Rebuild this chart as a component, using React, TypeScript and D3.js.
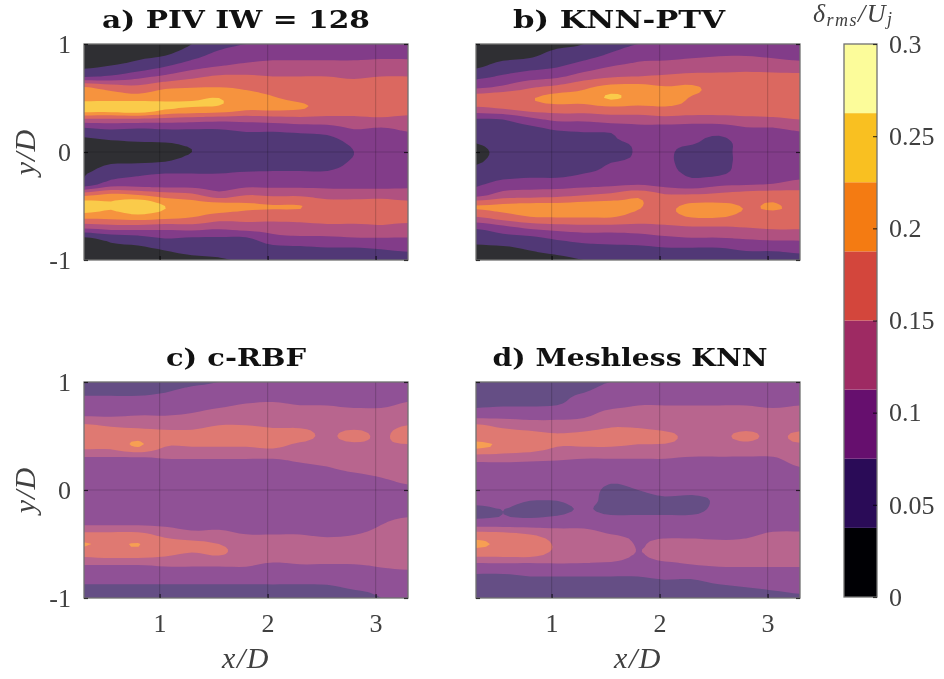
import React from 'react'
import * as d3 from 'd3'

// sample positions of the digitised fields (values below are delta_rms/U_j in percent)
const xSamples = [0.3, 0.55, 0.8, 1.05, 1.3, 1.55, 1.8, 2.05, 2.3, 2.55, 2.8, 3.05, 3.3]
const ySamples = [1, 0.9, 0.8, 0.7, 0.6, 0.5, 0.4, 0.3, 0.2, 0.1, 0, -0.1, -0.2, -0.3, -0.4, -0.5, -0.6, -0.7, -0.8, -0.9, -1]

// one inner array per x sample, top to bottom
const piv = [
  [2, 2, 3, 7, 19, 21, 25, 14, 6, 3, 2, 2.5, 3.5, 5.5, 18, 25, 20, 12, 3, 2, 1],
  [2, 2.5, 3.75, 8, 17, 21, 25, 14, 7, 3.5, 2, 3.5, 6, 9.5, 20, 23, 20, 13, 5, 3, 2],
  [2, 3, 5, 10, 16, 20.5, 26, 14, 6.5, 3.9, 2, 3.6, 7, 9.5, 19, 26, 21, 13, 6, 3, 2],
  [2, 3.5, 7, 12, 18, 21.5, 23, 13.5, 7, 4, 2.5, 4, 7.5, 9.5, 17, 22.5, 20, 12.5, 7.5, 4, 2.5],
  [3.75, 6, 9.5, 14, 18.5, 22, 22, 13, 7, 4.5, 3.75, 5, 7.5, 9.5, 16, 21, 19, 13, 7, 5, 3],
  [6.5, 8.5, 11, 15.5, 18.75, 22.5, 21.5, 12.5, 7, 4.5, 4, 5, 7.5, 9, 13, 20.5, 17, 12, 7, 5, 3.5],
  [7.5, 9.5, 12, 15.5, 18, 20.5, 19.5, 12.5, 8, 5, 4, 5, 8, 10, 15, 19.5, 16.5, 13, 7, 5, 4],
  [8, 10, 12.5, 15, 17, 19, 19.5, 13, 8, 5, 5, 6, 8, 10, 14.5, 19, 16.5, 13, 10, 6, 4],
  [8, 10, 12.5, 15, 16.5, 18, 19, 13.5, 8.5, 5.5, 5, 6, 8, 10, 14.5, 18.9, 16.5, 13.5, 10.5, 6.5, 5],
  [8, 10, 12.5, 15, 16.5, 17.5, 17.5, 13.5, 9, 6, 5, 6, 8, 10, 13.5, 17, 16.5, 14, 10.5, 7, 5],
  [8.5, 10, 12.5, 14.5, 16.5, 17.5, 18, 13.5, 11, 8.5, 7.5, 8, 9, 10, 13.5, 17, 16.5, 14, 11, 7, 5.5],
  [8.5, 10.5, 12.5, 15, 17, 18, 18.5, 14, 10.5, 9, 8.5, 8.5, 9, 10, 13.5, 17.5, 16, 14.5, 11, 7.5, 6],
  [9, 10.5, 12.5, 15, 17, 18, 18, 13, 11.5, 9.5, 9, 9, 9.5, 10.5, 13, 16.5, 16, 14, 11, 8, 6.5],
]

const knnPtv = [
  [2, 2.5, 3, 6.5, 10.5, 17, 14, 7, 5.5, 4, 3, 3.5, 5, 7, 10, 19, 15, 8, 5, 3, 2],
  [2, 2.5, 5, 8, 12, 18, 15, 7.5, 6, 5, 4.5, 5, 6, 9, 13, 19.5, 17, 10, 6, 3, 2],
  [2, 3, 6, 9.5, 14.5, 18.5, 16.5, 10, 6, 5, 4.5, 5, 6.5, 9.5, 13.5, 20, 18.75, 12, 6.5, 4, 2.5],
  [3, 5, 7, 10.5, 16, 20, 17, 12, 7.5, 5, 4.5, 5, 6.5, 9.5, 14, 20, 19, 13, 8, 5, 3],
  [3.75, 6, 9, 13, 18, 20, 17, 12, 8, 5.5, 5, 5.5, 7.5, 10, 15, 20.5, 19, 13.5, 9, 6, 3.75],
  [6, 8, 11, 14.5, 20, 23, 17.5, 13, 8, 7, 5, 7.5, 8.5, 10.5, 16, 20.5, 19, 13.5, 9, 6.5, 4],
  [7.5, 10, 12, 15, 20, 21, 17.5, 13, 9.5, 8, 8, 8, 9, 11, 18, 19, 17.5, 13.5, 9.5, 6.5, 4.5],
  [8, 10, 12.5, 15.5, 19, 20.5, 18, 13.5, 9, 8, 8, 8, 8.5, 10, 15.5, 18, 17.5, 14, 10.5, 7, 5],
  [8.5, 10.5, 13, 16, 19.2, 18.5, 17.5, 13, 9, 8, 6.5, 6.5, 7, 9, 15.5, 19.5, 19, 14.5, 11, 7, 5],
  [9, 11, 13, 16, 17.5, 18, 17.5, 13, 9, 6.5, 6.5, 6.5, 7, 10.5, 16, 19.5, 19, 14.5, 11, 7, 5],
  [9, 11, 13.5, 16, 17.5, 18, 18, 13.5, 10.5, 9, 8.5, 8.5, 9, 11, 17, 18.6, 18, 15, 11.5, 8, 5.5],
  [8.5, 10.5, 13, 16, 17.5, 18, 18, 14, 10.5, 9, 8.5, 8.5, 9, 11.5, 17.5, 18.9, 18, 15.5, 12, 8, 6],
  [8.5, 10, 12.5, 16, 17.5, 18, 18, 15, 11.5, 9.5, 9, 9, 9.5, 13, 16.5, 18.3, 18, 15.5, 12, 8.5, 6.5],
]

const cRbf = [
  [6, 7, 9, 10.5, 15.5, 17, 16, 11, 9.5, 9, 8.5, 8.5, 9, 10, 15.5, 19, 16, 11, 9, 7, 5.5],
  [6, 7, 9, 10.5, 14.5, 17, 16, 11, 9.5, 9, 8.5, 8.5, 9, 10, 15.5, 18, 16.5, 11, 9, 7, 5.5],
  [6, 7, 9, 11, 14, 17.5, 18.9, 11, 9.5, 9, 8.5, 8.5, 9, 10, 15.5, 18.9, 16.5, 11, 9, 7, 5.5],
  [6.5, 7.5, 9.5, 11, 13.5, 16.5, 15, 11.5, 9.5, 9, 8.5, 8.5, 9, 10, 13.5, 16.5, 15.5, 11.5, 9, 7, 5.5],
  [7, 8.5, 10, 11.5, 14, 16, 15, 11.5, 10, 9, 8.5, 8.5, 9, 9.5, 12, 16, 14.5, 11.5, 9, 7, 5.5],
  [7.5, 9, 10.5, 12.5, 15, 16.5, 15, 11.5, 10, 9, 8.5, 8.5, 9, 10, 12, 15, 15.2, 11.5, 9, 7, 5.5],
  [8, 9.5, 11.25, 13, 15, 16.5, 15, 11.5, 10, 9, 8.5, 8.5, 9, 9.5, 11, 13.5, 13.5, 11.5, 9, 7, 5.5],
  [8.5, 10, 11.5, 13.5, 14.5, 16.5, 15.5, 11.5, 10, 9, 8.5, 8.5, 9, 9.5, 11, 13, 13, 10.5, 9, 7, 5.5],
  [8.5, 10, 11, 13, 14.5, 16, 14, 12, 10.5, 9.5, 8.5, 8.5, 9, 9.5, 11, 13, 13, 11, 9, 7, 5.5],
  [8.5, 9.5, 11, 12.5, 14, 14.5, 14, 12.5, 11, 9.5, 9, 8.5, 9, 9.5, 10.5, 12.5, 12.5, 11, 9.5, 7, 5.5],
  [8.5, 9.5, 10.5, 12.5, 14, 16, 14, 13, 12, 10, 9, 9, 9, 9.5, 11, 12.5, 13, 11, 10, 8, 6],
  [8.5, 9.5, 10.5, 12.5, 14, 14.5, 14.5, 13, 12.5, 11, 9.5, 9.5, 10, 11, 12, 13, 13, 11.5, 10, 8.5, 7.5],
  [9, 10, 11.5, 13, 15, 16.5, 14.5, 13.5, 13, 12, 10.5, 10, 10.5, 12, 13, 13, 13, 12, 10, 9, 7.5],
]

const meshlessKnn = [
  [6, 6.5, 7, 9, 15.5, 17, 19.5, 13, 9.5, 8.5, 8.5, 8, 7, 8.5, 16, 19.5, 16, 10, 7, 6, 5],
  [6, 6.5, 7, 9.5, 14, 17, 18, 13, 9.5, 8.5, 8.5, 8, 7.5, 8.5, 15.5, 18, 16, 10, 7, 6, 5],
  [6, 6.5, 7, 9.5, 13, 16.5, 17, 12.5, 9.5, 8.5, 8.5, 7.5, 7, 8.5, 14.5, 17.5, 16, 10, 7.5, 6, 5],
  [6.5, 7, 7.2, 10, 12.5, 15.5, 15, 12, 9.5, 8.5, 8.5, 7.5, 7, 9, 13, 14.5, 14, 10.5, 7.5, 6.5, 5.5],
  [7, 7.5, 9, 10.5, 13, 16, 15, 11.5, 9.5, 9, 8.5, 8, 7.8, 9.5, 12.5, 14, 13.5, 10.5, 7.5, 6.5, 5.5],
  [7.5, 8.5, 10, 12.5, 14.5, 16.5, 15, 11.5, 9.5, 8, 7, 7, 7, 9, 11, 13.5, 13.5, 10, 7.5, 6.5, 5.5],
  [7.5, 9.5, 11, 12.5, 14.5, 16, 14.5, 11.5, 9.5, 8.5, 7.5, 7, 7, 9, 10.5, 11, 11, 9.5, 7.5, 6.5, 5.5],
  [8, 9.5, 11, 12.5, 14, 15.5, 14.5, 11.5, 9.5, 8.5, 8, 7.2, 7, 9, 10, 12.5, 13, 10, 8, 6.5, 5.5],
  [8, 9.5, 11, 12.5, 14, 14.5, 14, 11, 9.5, 8.5, 8, 7, 7, 9, 10, 12.5, 13, 11, 8, 6.5, 5.5],
  [8, 9.5, 11, 12.5, 14, 14.5, 14, 11, 9.5, 8.5, 8, 7.8, 8.2, 9, 10, 12, 13, 11.5, 9, 7, 5.5],
  [8, 9.5, 11, 12.5, 14, 15.5, 14, 11, 9.5, 9, 8.5, 8.5, 8.5, 9, 10.5, 12, 13, 11.5, 9.5, 7.5, 6],
  [8, 9.5, 10.5, 12.5, 14, 14.5, 14, 11, 9.5, 9, 8.5, 8.5, 8.5, 9.5, 11.5, 13, 13.5, 11.5, 9.5, 8, 6.5],
  [8.5, 9.5, 11, 12.5, 14, 15.5, 14.5, 13, 11, 9.5, 9, 9, 9.5, 10, 11.5, 13, 13.5, 11.5, 9.5, 8.5, 7],
]

const levels = [0, 3.75, 7.5, 11.25, 15, 18.75, 22.5, 26.25]
const bandColors = ['#000004', '#2a0b57', '#660f6e', '#9e2a63', '#d3463c', '#f47b12', '#f9c021', '#fcfc9a']
const xTicks = [1, 2, 3]
const yTicks = [-1, 0, 1]
const barTicks = [0, 0.05, 0.1, 0.15, 0.2, 0.25, 0.3]

const panels = [
  { title: 'a) PIV IW = 128', cols: piv, left: 84, top: 44, alpha: 0.81, xLab: false, yLab: true, titleX: 236, titleW: 268 },
  { title: 'b) KNN-PTV', cols: knnPtv, left: 476, top: 44, alpha: 0.81, xLab: false, yLab: false, titleX: 619, titleW: 212 },
  { title: 'c) c-RBF', cols: cRbf, left: 84, top: 382, alpha: 0.72, xLab: true, yLab: true, titleX: 236, titleW: 140 },
  { title: 'd) Meshless KNN', cols: meshlessKnn, left: 476, top: 382, alpha: 0.72, xLab: true, yLab: false, titleX: 630, titleW: 275 },
]

const W = 324
const H = 216
const FINE = 4 // contour mesh is this much finer than the samples, so bands come out rounded
const inkColor = '#404040'
const serif = '"Liberation Serif", serif'

// Catmull-Rom through a line of samples, only used to round the contour outlines
const refine = (line: number[]) => {
  const out: number[] = []
  for (let i = 0; i < line.length - 1; i++) {
    const p0 = line[Math.max(i - 1, 0)]
    const p1 = line[i]
    const p2 = line[i + 1]
    const p3 = line[Math.min(i + 2, line.length - 1)]
    for (let k = 0; k < FINE; k++) {
      const t = k / FINE
      out.push(0.5 * (2 * p1 + (p2 - p0) * t + (2 * p0 - 5 * p1 + 4 * p2 - p3) * t * t + (3 * p1 - p0 - 3 * p2 + p3) * t * t * t))
    }
  }
  out.push(line[line.length - 1])
  return out
}

const App = () => {
  const ref = React.useRef<SVGSVGElement>(null)

  React.useEffect(() => {
    const svg = d3.select(ref.current)
    svg.selectAll('*').remove()

    const xScale = d3.scaleLinear().domain([0.3, 3.3]).range([0, W])
    const yScale = d3.scaleLinear().domain([-1, 1]).range([H, 0])
    const nx = (xSamples.length - 1) * FINE + 1
    const ny = (ySamples.length - 1) * FINE + 1
    const gridX = d3.scaleLinear().domain([0.5, nx - 0.5]).range([xScale(xSamples[0]), xScale(xSamples[xSamples.length - 1])])
    const gridY = d3.scaleLinear().domain([0.5, ny - 0.5]).range([yScale(ySamples[0]), yScale(ySamples[ySamples.length - 1])])
    const path = d3.geoPath(d3.geoTransform({
      point(x, y) { this.stream.point(gridX(x), gridY(y)) },
    }))
    const contours = d3.contours().size([nx, ny]).thresholds(levels)

    const styleAxis = (g) => {
      g.select('.domain').remove()
      g.selectAll('line').attr('stroke', '#000').attr('stroke-width', 1.2).attr('stroke-opacity', 0.7)
      g.selectAll('text').attr('font-family', serif).attr('font-size', 26).attr('fill', inkColor)
    }

    panels.forEach((p, i) => {
      const g = svg.append('g').attr('transform', `translate(${p.left},${p.top})`)
      const fineCols = p.cols.map(refine)
      const fineRows = d3.transpose(fineCols).map(refine)
      const values = fineRows.flat()

      svg.append('clipPath').attr('id', `clip${i}`).append('rect').attr('width', W).attr('height', H)

      g.append('g')
        .attr('clip-path', `url(#clip${i})`)
        .attr('opacity', p.alpha)
        .selectAll('path')
        .data(contours(values))
        .enter()
        .append('path')
        .attr('d', path)
        .attr('fill', (d, k) => bandColors[k])

      // faint grid through the plot
      g.selectAll('.gx').data(xTicks).enter().append('line')
        .attr('x1', (d) => xScale(d)).attr('x2', (d) => xScale(d))
        .attr('y1', 0).attr('y2', H)
        .attr('stroke', '#000').attr('stroke-opacity', 0.16).attr('stroke-width', 1.2)
      g.append('line')
        .attr('x1', 0).attr('x2', W).attr('y1', yScale(0)).attr('y2', yScale(0))
        .attr('stroke', '#000').attr('stroke-opacity', 0.16).attr('stroke-width', 1.2)

      // box
      g.append('rect').attr('width', W).attr('height', H)
        .attr('fill', 'none').attr('stroke', '#707070').attr('stroke-width', 1.3)

      g.append('g').attr('transform', `translate(0,${H})`)
        .call(d3.axisBottom(xScale).tickValues(xTicks).tickSize(-4).tickPadding(16)
          .tickFormat((d) => (p.xLab ? String(d) : '')))
        .call(styleAxis)
      g.append('g')
        .call(d3.axisLeft(yScale).tickValues(yTicks).tickSize(-4).tickPadding(13)
          .tickFormat((d) => (p.yLab ? String(d) : '')))
        .call(styleAxis)
      g.append('g').attr('transform', `translate(${W},0)`)
        .call(d3.axisRight(yScale).tickValues(yTicks).tickSize(-4).tickFormat(() => ''))
        .call(styleAxis)

      g.append('text')
        .attr('x', p.titleX - p.left)
        .attr('y', -16)
        .attr('text-anchor', 'middle')
        .attr('font-family', '"DejaVu Serif", serif')
        .attr('font-weight', 'bold')
        .attr('font-size', 25)
        .attr('textLength', p.titleW)
        .attr('lengthAdjust', 'spacingAndGlyphs')
        .attr('fill', '#111')
        .text(p.title)

      if (p.yLab) {
        g.append('text')
          .attr('transform', `translate(-49,${H / 2}) rotate(-90)`)
          .attr('text-anchor', 'middle')
          .attr('font-family', serif)
          .attr('font-style', 'italic')
          .attr('font-size', 30)
          .attr('letter-spacing', 1)
          .attr('fill', inkColor)
          .text('y/D')
      }
      if (p.xLab) {
        g.append('text')
          .attr('x', W / 2)
          .attr('y', H + 70)
          .attr('text-anchor', 'middle')
          .attr('font-family', serif)
          .attr('font-style', 'italic')
          .attr('font-size', 30)
          .attr('letter-spacing', 1.5)
          .attr('fill', inkColor)
          .text('x/D')
      }
    })

    // colour bar
    const barLeft = 844
    const barTop = 44
    const barW = 33
    const barH = 553
    const barScale = d3.scaleLinear().domain([0, 0.3]).range([barH, 0])
    const bar = svg.append('g').attr('transform', `translate(${barLeft},${barTop})`)
    const edges = [...levels.map((d) => d / 100), 0.3]
    bar.selectAll('rect.band').data(bandColors).enter().append('rect')
      .attr('class', 'band')
      .attr('x', 0)
      .attr('width', barW)
      .attr('y', (d, i) => barScale(edges[i + 1]))
      .attr('height', (d, i) => barScale(edges[i]) - barScale(edges[i + 1]))
      .attr('fill', (d) => d)
    bar.append('rect').attr('width', barW).attr('height', barH)
      .attr('fill', 'none').attr('stroke', '#707070').attr('stroke-width', 1.3)
    bar.append('g').attr('transform', `translate(${barW},0)`)
      .call(d3.axisRight(barScale).tickValues(barTicks).tickSize(-4).tickPadding(12).tickFormat((d) => String(d)))
      .call(styleAxis)

    const label = svg.append('text')
      .attr('x', 813)
      .attr('y', 22)
      .attr('font-family', serif)
      .attr('font-style', 'italic')
      .attr('font-size', 26)
      .attr('letter-spacing', 1.5)
      .attr('fill', inkColor)
    label.append('tspan').text('δ')
    label.append('tspan').attr('font-size', 18).attr('dy', 4).text('rms')
    label.append('tspan').attr('dy', -4).text('/U')
    label.append('tspan').attr('font-size', 18).attr('dy', 3).text('j')
  }, [])

  return (
    <svg
      ref={ref}
      width={944}
      height={679}
      style={{ position: 'absolute', left: 0, top: 0, display: 'block', background: '#fff', filter: 'blur(0.6px)' }}
    />
  )
}

export default App
